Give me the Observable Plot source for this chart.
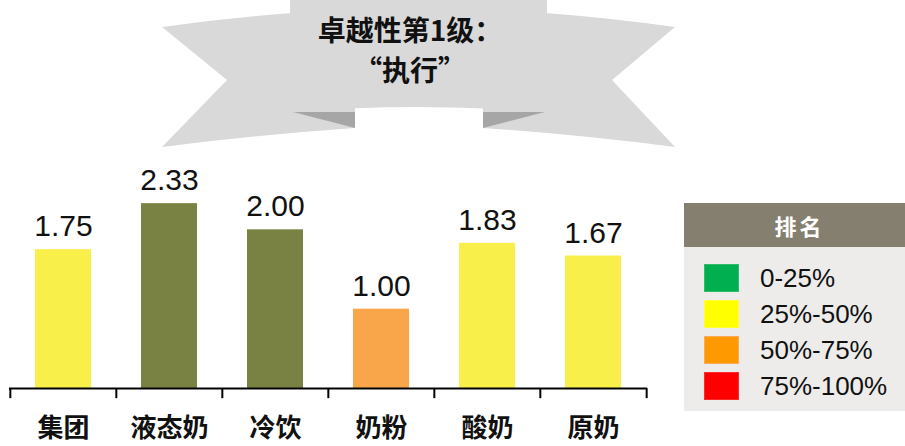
<!DOCTYPE html>
<html>
<head>
<meta charset="utf-8">
<script src="https://cdn.jsdelivr.net/npm/d3@7"></script>
<script src="https://cdn.jsdelivr.net/npm/@observablehq/plot@0.6"></script>
<style>
  body { margin: 0; background: #fff; }
  #wrap { position: relative; width: 905px; height: 446px; overflow: hidden; font-family: "Liberation Sans", Arial, sans-serif; }
  #wrap > svg.plot-main { position: absolute; left: 0; top: 0; }
  #banner { position: absolute; left: 0; top: 0; }
  #legend { position: absolute; left: 684px; top: 203px; width: 221px; height: 208px; background: #edecea; }
  #legend .head { height: 44px; background: #857f70; color: #fff; font-family: "Noto Sans CJK SC", sans-serif; font-weight: 700; font-size: 22px; line-height: 44px; text-align: center; letter-spacing: 3px; padding-left: 10px; box-sizing: border-box; }
  #legend .row { position: absolute; left: 20px; height: 30px; display: flex; align-items: center; }
  #legend .sw { width: 35px; height: 28px; box-sizing: border-box; margin-right: 21px; }
  #legend .lab { font-family: "Liberation Sans", Arial, sans-serif; font-size: 26px; color: #111; }
</style>
</head>
<body>
<div id="wrap"></div>
<script>
// ---- data ----
const categories = ["集团", "液态奶", "冷饮", "奶粉", "酸奶", "原奶"];
const values = [1.75, 2.33, 2.00, 1.00, 1.83, 1.67];
const valueLabels = ["1.75", "2.33", "2.00", "1.00", "1.83", "1.67"];
const tiers = ["q2", "top", "top", "q3", "q2", "q2"];
const tierKeys = ["q2", "top", "q3"];
const titleLines = ["卓越性第1级：", "“执行”"];
const legendTitle = "排名";
const legendLabels = ["0-25%", "25%-50%", "50%-75%", "75%-100%"];

// ---- styles / layout ----
const tierColors = ["#f9ef4b", "#7a8243", "#f9a54a"];
const legendColors = ["#00b050", "#ffff00", "#ff9900", "#ff0000"];
const legendStrokes = ["#2fbd66", "#ffff33", "#fbab55", "#ff2a2a"];
const W = 905, H = 446;
const mL = 9, mR = 258, mT = 150, mB = 58;
const step = (W - mL - mR) / categories.length;
const pad = 0.473;

const data = categories.map((c, i) => ({cat: c, value: values[i], label: valueLabels[i], tier: tiers[i]}));
const last = [categories[categories.length - 1]];

const chart = Plot.plot({
  width: W,
  height: H,
  marginLeft: mL,
  marginRight: mR,
  marginTop: mT,
  marginBottom: mB,
  style: {background: "transparent", overflow: "visible"},
  x: {type: "band", domain: categories, paddingInner: pad, paddingOuter: pad / 2, axis: null},
  y: {domain: [0, 3], axis: null},
  color: {domain: tierKeys, range: tierColors},
  marks: [
    Plot.barY(data, {x: "cat", y: "value", fill: "tier"}),
    Plot.ruleY([0], {stroke: "#000", strokeWidth: 2}),
    Plot.ruleX(categories, {x: d => d, y1: 0, y2: -0.128, dx: -step / 2, stroke: "#000", strokeWidth: 2}),
    Plot.ruleX(last, {x: d => d, y1: 0, y2: -0.128, dx: step / 2, stroke: "#000", strokeWidth: 2}),
    Plot.text(data, {x: "cat", y: "value", text: "label", dy: -23, fontSize: 30, fill: "#111",
      fontFamily: "Liberation Sans, Arial, sans-serif"}),
    Plot.text(data, {x: "cat", y: 0, text: "cat", dy: 40, fontSize: 26, fontWeight: 700, fill: "#111",
      fontFamily: "Noto Sans CJK SC, sans-serif"})
  ]
});
chart.classList.add("plot-main");
const wrap = document.getElementById("wrap");
wrap.appendChild(chart);

// ---- decorative banner ----
const ns = "http://www.w3.org/2000/svg";
const banner = document.createElementNS(ns, "svg");
banner.setAttribute("id", "banner");
banner.setAttribute("width", W);
banner.setAttribute("height", 160);
banner.innerHTML = `
  <path d="M162,27 Q226,18 292,13 L355,13 L355,128 Q255,135 162,147 L227,80 Z" fill="#d9d9d9"/>
  <path d="M675,27 Q611,18 545,13 L483,13 L483,128 Q583,135 675,147 L612,80 Z" fill="#d9d9d9"/>
  <path d="M293,112 L355,112 L355,128 Z" fill="#a6a6a6"/>
  <path d="M545,112 L483,112 L483,128 Z" fill="#a6a6a6"/>
  <path d="M290,-2 L547,-2 L547,112 Q418,102 290,112 Z" fill="#d9d9d9"/>
`;
titleLines.forEach((t, i) => {
  const tx = document.createElementNS(ns, "text");
  tx.setAttribute("x", 410);
  tx.setAttribute("y", i === 0 ? 41 : 81);
  tx.setAttribute("text-anchor", "middle");
  tx.setAttribute("font-family", "Noto Sans CJK SC, sans-serif");
  tx.setAttribute("font-weight", "700");
  tx.setAttribute("font-size", "28");
  tx.setAttribute("fill", "#111");
  tx.textContent = t;
  banner.appendChild(tx);
});
wrap.appendChild(banner);

// ---- legend ----
const legend = document.createElement("div");
legend.id = "legend";
const head = document.createElement("div");
head.className = "head";
head.textContent = legendTitle;
legend.appendChild(head);
legendLabels.forEach((lab, i) => {
  const row = document.createElement("div");
  row.className = "row";
  row.style.top = (60 + i * 36) + "px";
  const sw = document.createElement("div");
  sw.className = "sw";
  sw.style.background = legendColors[i];
  sw.style.border = "1.5px solid " + legendStrokes[i];
  const tx = document.createElement("span");
  tx.className = "lab";
  tx.textContent = lab;
  row.appendChild(sw);
  row.appendChild(tx);
  legend.appendChild(row);
});
wrap.appendChild(legend);
</script>
</body>
</html>
